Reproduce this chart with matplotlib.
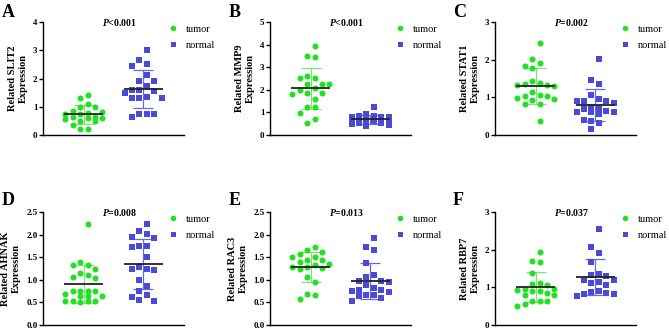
import numpy as np
import matplotlib
matplotlib.use("Agg")
import matplotlib.pyplot as plt
from matplotlib.lines import Line2D

plt.rcParams['font.family'] = ['Liberation Serif', 'DejaVu Serif']
plt.rcParams['mathtext.fontset'] = 'custom'
plt.rcParams['mathtext.it'] = 'Liberation Serif:bold:italic'
plt.rcParams['mathtext.rm'] = 'Liberation Serif:bold'

########### Data

genes = ["SLIT2", "MMP9", "STAT1", "AHNAK", "RAC3", "RBP7"]
letters = ["A", "B", "C", "D", "E", "F"]
pvals = ["$P$<0.001", "$P$<0.001", "$P$=0.002", "$P$=0.008", "$P$=0.013", "$P$=0.037"]
ymax = [4, 5, 3, 2.5, 2.5, 3]
ystep = [1, 1, 1, 0.5, 0.5, 1]

tumor_slit2 = [1.43, 1.31, 1.08, 0.98, 0.98, 0.85, 0.83, 0.78, 0.75, 0.73,
               0.62, 0.62, 0.60, 0.60, 0.56, 0.51, 0.50, 0.36, 0.21, 0.23]
normal_slit2 = [3.00, 2.65, 2.51, 2.44, 2.12, 1.91, 1.91, 1.75, 1.60, 1.60,
                1.55, 1.50, 1.35, 1.30, 1.30, 1.31, 0.64, 0.73, 0.73, 0.73]

tumor_mmp9 = [3.93, 3.48, 3.45, 2.63, 2.51, 2.54, 2.25, 2.25, 2.25, 2.09,
              1.99, 1.87, 1.87, 1.83, 1.61, 1.26, 1.26, 0.98, 0.73, 0.53]
normal_mmp9 = [1.25, 0.92, 0.85, 0.82, 0.80, 0.80, 0.78, 0.75, 0.72, 0.70,
               0.70, 0.68, 0.65, 0.62, 0.60, 0.55, 0.52, 0.48, 0.45, 0.38]

tumor_stat1 = [2.44, 2.02, 1.91, 1.82, 1.78, 1.43, 1.39, 1.36, 1.32, 1.32, 1.30,
               1.15, 1.05, 1.04, 1.04, 0.98, 0.96, 0.93, 0.81, 0.81, 0.38]
normal_stat1 = [2.02, 1.45, 1.36, 1.06, 0.95, 0.90, 0.90, 0.90, 0.86, 0.75, 0.73,
                0.68, 0.64, 0.60, 0.60, 0.60, 0.55, 0.40, 0.38, 0.33, 0.16]

tumor_ahnak = [2.24, 1.39, 1.33, 1.33, 1.24, 1.16, 1.10, 1.07, 1.04, 0.76, 0.76,
               0.76, 0.76, 0.69, 0.64, 0.64, 0.64, 0.53, 0.53, 0.53, 0.53, 0.51]
normal_ahnak = [2.24, 2.08, 2.01, 1.94, 1.93, 1.75, 1.75, 1.72, 1.51, 1.29,
                1.22, 1.24, 1.24, 0.99, 0.86, 0.76, 0.67, 0.62, 0.54, 0.56]

tumor_rac3 = [1.73, 1.66, 1.61, 1.57, 1.50, 1.50, 1.43, 1.43, 1.39, 1.35,
              1.33, 1.29, 1.29, 1.26, 1.24, 1.07, 0.95, 0.69, 0.66, 0.58]
normal_rac3 = [1.93, 1.72, 1.66, 1.37, 1.07, 1.11, 0.98, 0.98, 0.96, 0.82,
               0.89, 0.78, 0.78, 0.75, 0.72, 0.67, 0.66, 0.64, 0.60, 0.53]

tumor_rbp7 = [1.93, 1.71, 1.66, 1.38, 1.11, 1.05, 1.09, 0.96, 0.96, 0.91,
              0.91, 0.94, 0.85, 0.79, 0.79, 0.63, 0.63, 0.65, 0.57, 0.50]
normal_rbp7 = [2.54, 2.08, 1.90, 1.67, 1.36, 1.33, 1.29, 1.20, 1.20,
               1.14, 1.11, 1.07, 0.91, 0.88, 0.86, 0.83, 0.81, 0.76]

tumor_all = [tumor_slit2, tumor_mmp9, tumor_stat1, tumor_ahnak, tumor_rac3, tumor_rbp7]
normal_all = [normal_slit2, normal_mmp9, normal_stat1, normal_ahnak, normal_rac3, normal_rbp7]

green = "#22e022"
blue = "#4a4ad8"
green_err = "#7fe07f"
blue_err = "#6a6ae0"


def swarm_x(vals, center, ry, step):
    # GraphPad-like scatter: 6 grid columns, a point goes to the first free
    # column (alternating sides) with no neighbour closer than ry in y
    vals = np.asarray(vals, dtype=float)
    order = np.argsort(-vals)
    xs = np.zeros(len(vals))
    cols = {}
    flip = 1
    for idx in order:
        cands = []
        for k in range(3):
            cands += [flip * (k + 0.5), -flip * (k + 0.5)]
        best, best_d = cands[0], -1
        for c in cands:
            d = min([abs(vals[idx] - v) for v in cols.get(c, [])] + [99])
            if d >= ry:
                best = c
                break
            if d > best_d:
                best, best_d = c, d
        cols.setdefault(best, []).append(vals[idx])
        xs[idx] = center + best * step
        flip = -flip
    return xs


########### Plot

fig = plt.figure(figsize=(6.69, 3.30), dpi=100)
W, H = 669.0, 330.0
lefts = [43, 270, 495]
tops = [22, 212]
letter_x = [2, 229, 453]
letter_y = [4, 192]

for i in range(6):
    row, col = i // 3, i % 3
    ax = fig.add_axes([lefts[col] / W, 1 - (tops[row] + 113) / H, 141 / W, 113 / H])
    t = np.asarray(tumor_all[i])
    n = np.asarray(normal_all[i])
    ry = ymax[i] * 0.07

    for vals, cx, col_m, col_e, mk in [(t, 1, green, green_err, 'o'), (n, 2, blue, blue_err, 's')]:
        m, sd = vals.mean(), vals.std(ddof=1)
        ax.vlines([cx], m - sd, m + sd, color=col_e, lw=0.9, zorder=2)
        ax.hlines([m - sd, m + sd], cx - 0.17, cx + 0.17, color=col_e, lw=0.9, zorder=2)
        xs = swarm_x(vals, cx, ry, 0.125)
        ax.scatter(xs, vals, s=19 if mk == 'o' else 15, marker=mk, color=col_m,
                   linewidths=0, zorder=3)
        ax.hlines([m], cx - 0.33, cx + 0.33, color="#222222", lw=1.3, zorder=4)

    ax.set_xlim(0.31, 2.69)
    ax.set_ylim(0, ymax[i])
    ticks = np.arange(0, ymax[i] + 1e-9, ystep[i])
    ax.set_yticks(ticks)
    if ystep[i] < 1:
        ax.set_yticklabels(["%.1f" % v for v in ticks])
    else:
        ax.set_yticklabels(["%d" % v for v in ticks])
    ax.set_xticks([])
    for s in ["top", "right"]:
        ax.spines[s].set_visible(False)
    for s in ["left", "bottom"]:
        ax.spines[s].set_linewidth(1.0)
    ax.tick_params(axis='y', length=3, width=1, pad=1, labelsize=6.5)
    for lb in ax.get_yticklabels():
        lb.set_fontweight('bold')
    ax.set_ylabel("Related " + genes[i] + "\nExpression", fontsize=7.5,
                  fontweight='bold', labelpad=4, linespacing=1.2)
    ax.text(0.54, 1.0, pvals[i], transform=ax.transAxes, ha='center', va='center',
            fontsize=7, fontweight='bold')

    h1 = Line2D([], [], marker='o', ls='', color=green, markersize=4, markeredgewidth=0)
    h2 = Line2D([], [], marker='s', ls='', color=blue, markersize=3.6, markeredgewidth=0)
    ax.legend([h1, h2], ["tumor", "normal"], loc='upper left', bbox_to_anchor=(0.895, 0.975),
              frameon=False, fontsize=7.5, handlelength=0.8, handletextpad=0.8,
              borderpad=0, borderaxespad=0, labelspacing=0.6)

    fig.text(letter_x[col] / W, 1 - letter_y[row] / H, letters[i], fontsize=13,
             fontweight='bold', ha='left', va='top')

fig.savefig("out.png", dpi=100)
